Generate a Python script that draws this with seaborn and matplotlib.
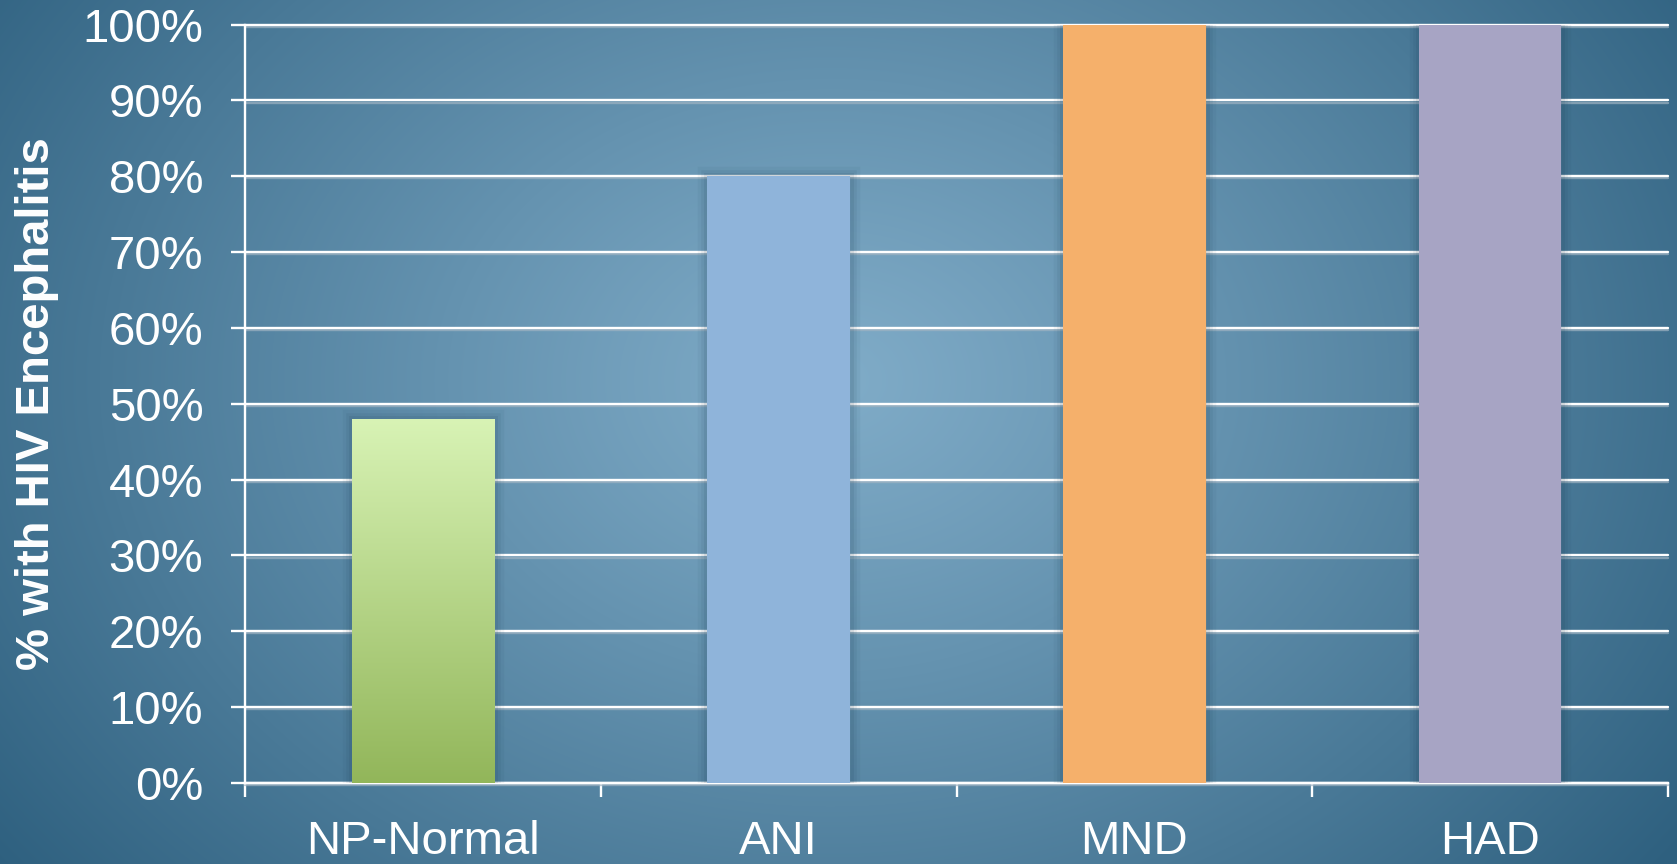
import numpy as np
import matplotlib
matplotlib.use("Agg")
import matplotlib.pyplot as plt
import matplotlib.patheffects as pe
from matplotlib.ticker import PercentFormatter, FixedLocator
import seaborn as sns

# Data
categories = ["NP-Normal", "ANI", "MND", "HAD"]
pct_hive = [0.48, 0.80, 1.00, 1.00]
bar_colors = ["#b9dc8c", "#8fb4da", "#f5b06b", "#a7a4c4"]
y_ticks = [0.0, 0.1, 0.2, 0.3, 0.4, 0.5, 0.6, 0.7, 0.8, 0.9, 1.0]

sns.set_theme(style="white")
plt.rcParams["font.family"] = ["Liberation Sans", "DejaVu Sans"]

W, H, DPI = 1677, 864, 100
fig = plt.figure(figsize=(W / DPI, H / DPI), dpi=DPI)

# Radial blue backdrop
bg = fig.add_axes([0, 0, 1, 1], zorder=0)
yy, xx = np.mgrid[0:H, 0:W]
cx, cy = 830.0, 380.0
d = np.sqrt(((xx - cx) / 1050.0) ** 2 + ((yy - cy) / 800.0) ** 2)
d = np.clip(d, 0, 1) ** 1.1
inner = np.array([128, 172, 200]) / 255.0
outer = np.array([46, 96, 127]) / 255.0
img = inner[None, None, :] * (1 - d[..., None]) + outer[None, None, :] * d[..., None]
bg.imshow(img, extent=[0, W, H, 0], aspect="auto", interpolation="bilinear")
bg.set_xlim(0, W)
bg.set_ylim(H, 0)
bg.axis("off")

left, right = 245 / W, 1668 / W
bottom, top = (H - 783) / H, (H - 24.6) / H
ax = fig.add_axes([left, bottom, right - left, top - bottom], zorder=1)
ax.patch.set_alpha(0)

sns.barplot(x=categories, y=pct_hive, hue=categories, palette=bar_colors,
            width=0.4, legend=False, saturation=1, ax=ax, zorder=3)

# Soft shadow around each bar
shadow = [pe.Stroke(linewidth=w, foreground="#17384d", alpha=a)
          for w, a in [(14, 0.05), (9, 0.07), (5, 0.09)]] + [pe.Normal()]
for p in ax.patches:
    p.set_edgecolor("none")
    p.set_path_effects(shadow)

# Vertical green gradient on the first bar
p0 = ax.patches[0]
x0, w0, h0 = p0.get_x(), p0.get_width(), p0.get_height()
top_c = np.array([216, 243, 181]) / 255.0
bot_c = np.array([146, 182, 90]) / 255.0
t = np.linspace(0, 1, 256)[:, None, None]
grad = top_c * (1 - t) + bot_c * t
grad = np.repeat(grad, 2, axis=1)
im = ax.imshow(grad, extent=[x0, x0 + w0, 0, h0], origin="upper",
               aspect="auto", zorder=4, interpolation="bilinear")
im.set_clip_path(p0)

ax.set_xlim(-0.5, 3.5)
ax.set_ylim(0, 1)
ax.set_xlabel("")

# Axes styling
ax.yaxis.set_major_locator(FixedLocator(y_ticks))
ax.yaxis.set_major_formatter(PercentFormatter(1.0, decimals=0))
ax.set_axisbelow(True)
ax.grid(axis="y", color="white", linewidth=1.7)
for gl in ax.yaxis.get_gridlines():
    gl.set_clip_on(False)
    gl.set_path_effects([pe.SimpleLineShadow(offset=(0, -1.5), shadow_color="#9fb3c2", alpha=0.7),
                         pe.Normal()])
ax.grid(axis="x", visible=False)

for s in ["top", "right"]:
    ax.spines[s].set_visible(False)
for s in ["left", "bottom"]:
    ax.spines[s].set_color("white")
    ax.spines[s].set_linewidth(1.7)

ax.tick_params(axis="y", which="major", direction="out", length=10, width=1.7,
               color="white", labelcolor="white", labelsize=34, pad=20, left=True)
ax.xaxis.set_minor_locator(FixedLocator([-0.5, 0.5, 1.5, 2.5, 3.5]))
ax.tick_params(axis="x", which="minor", direction="out", length=10, width=1.7,
               color="white", bottom=True)
ax.tick_params(axis="x", which="major", length=0, labelcolor="white",
               labelsize=34, pad=27)

ax.set_ylabel("% with HIV Encephalitis", fontsize=34, fontweight="bold",
              color="white", va="center")
ax.yaxis.set_label_coords(-0.146, 0.5)

fig.savefig("out.png", dpi=DPI)
